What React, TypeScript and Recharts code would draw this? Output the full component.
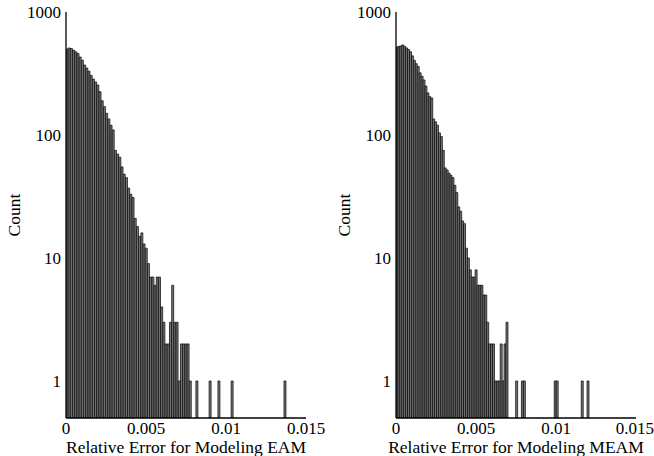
import { BarChart, Bar, XAxis, YAxis } from 'recharts'

// histogram bin widths (100 bins from 0 to the largest error)
const EAM_BIN = 0.0001376
const MEAM_BIN = 0.0001206

// counts per bin (null = empty bin)
const eamCounts: (number | null)[] = [
  500, 510, 505, 490, 475, 460, 430, 405, 370, 350,
  330, 305, 285, 270, 255, 225, 190, 170, 150, 135,
  120, 110, 75, 70, 66, 55, 48, 45, 37, 33,
  31, 21, 18, 15, 16, 13, 12, 9, 7, 7,
  6, 7, 7, 4, 3, 2, 2, 3, 6, 3,
  3, 1, 2, 2, 2, 2, 1, null, null, 1,
  null, null, null, null, null, 1, null, null, null, 1,
  null, null, null, null, null, 1, null, null, null, null,
  null, null, null, null, null, null, null, null, null, null,
  null, null, null, null, null, null, null, null, null, 1,
]

const meamCounts: (number | null)[] = [
  520, 525, 530, 540, 525, 510, 495, 475, 440, 405,
  380, 360, 320, 300, 280, 250, 220, 205, 200, 135,
  128, 120, 104, 97, 75, 54, 52, 49, 47, 45,
  39, 34, 26, 24, 20, 19, 12, 10, 8, 7,
  7, 8, 6, 6, 6, 5, 5, 3, 2, 2,
  2, 1, 1, 1, 2, 1, 2, 3, null, null,
  null, null, 1, null, null, 1, 1, null, null, null,
  null, null, null, null, null, null, null, null, null, null,
  null, null, 1, 1, null, null, null, null, null, null,
  null, null, null, null, null, null, 1, null, null, 1,
]

const X_DOMAIN = [0, 0.015]
const X_MAJOR = [0, 0.005, 0.01, 0.015]
const X_MINOR = [0.0025, 0.0075, 0.0125]
const Y_DOMAIN = [0.5, 1000]
const Y_MAJOR = [1, 10, 100, 1000]
const Y_MINOR = [
  0.6, 0.7, 0.8, 0.9, 2, 3, 4, 5, 6, 7, 8, 9,
  20, 30, 40, 50, 60, 70, 80, 90, 200, 300, 400, 500, 600, 700, 800, 900,
]

const FONT = 'Liberation Serif, DejaVu Serif, serif'
const TEXT = { fill: '#000', fontSize: 17, fontFamily: FONT, style: { fontFamily: FONT } }
const TITLE = { ...TEXT, fontSize: 17.5 }
const LINE = { stroke: '#000', strokeWidth: 1.3 }
const TICK = { stroke: '#000', strokeWidth: 1 }

function toBins(counts: (number | null)[], width: number) {
  return counts.map((count, i) => ({ x: (i + 0.5) * width, count }))
}

function CountLabel({ viewBox }: any) {
  const x = viewBox.x + 14
  const y = viewBox.y + viewBox.height / 2
  return (
    <text x={x} y={y} transform={`rotate(-90, ${x}, ${y})`} textAnchor="middle"
      fontSize={17.5} fill="#000" style={{ fontFamily: FONT }}>
      Count
    </text>
  )
}

function Panel({ counts, bin, title, left, marginLeft, marginRight }: {
  counts: (number | null)[]
  bin: number
  title: string
  left: number
  marginLeft: number
  marginRight: number
}) {
  const data = toBins(counts, bin)
  return (
    <div style={{ position: 'absolute', left, top: 0 }}>
      <BarChart
        width={327}
        height={456}
        data={data}
        barCategoryGap={0}
        barGap={0}
        margin={{ top: 12, right: marginRight, bottom: 0, left: marginLeft }}
      >
        <XAxis
          xAxisId="main" dataKey="x" type="number" domain={X_DOMAIN} allowDataOverflow
          ticks={X_MAJOR} height={38} tickSize={0} tickMargin={3.5} tickLine={false}
          axisLine={LINE} tick={TEXT}
          label={{ value: title, position: 'insideBottom', offset: 3, ...TITLE }}
        />
        <XAxis xAxisId="bMaj" dataKey="x" type="number" domain={X_DOMAIN} allowDataOverflow ticks={X_MAJOR}
          orientation="bottom" mirror height={0} tickSize={10} tick={false} axisLine={false} tickLine={TICK} />
        <XAxis xAxisId="bMin" dataKey="x" type="number" domain={X_DOMAIN} allowDataOverflow ticks={X_MINOR}
          orientation="bottom" mirror height={0} tickSize={5} tick={false} axisLine={false} tickLine={TICK} />
        <XAxis xAxisId="tMaj" dataKey="x" type="number" domain={X_DOMAIN} allowDataOverflow ticks={X_MAJOR}
          orientation="top" mirror height={0} tickSize={10} tick={false} axisLine={LINE} tickLine={TICK} />
        <XAxis xAxisId="tMin" dataKey="x" type="number" domain={X_DOMAIN} allowDataOverflow ticks={X_MINOR}
          orientation="top" mirror height={0} tickSize={5} tick={false} axisLine={false} tickLine={TICK} />

        <YAxis
          yAxisId="main" scale="log" type="number" domain={Y_DOMAIN} allowDataOverflow ticks={Y_MAJOR}
          width={60} tickSize={0} tickMargin={5} tickLine={false} axisLine={LINE} tick={TEXT}
          label={{ value: 'Count', position: 'center', content: CountLabel }}
        />
        <YAxis yAxisId="lMaj" scale="log" type="number" domain={Y_DOMAIN} allowDataOverflow ticks={Y_MAJOR}
          mirror width={0} tickSize={10} tick={false} axisLine={false} tickLine={TICK} />
        <YAxis yAxisId="lMin" scale="log" type="number" domain={Y_DOMAIN} allowDataOverflow ticks={Y_MINOR}
          mirror width={0} tickSize={5} tick={false} axisLine={false} tickLine={TICK} />
        <YAxis yAxisId="rMaj" scale="log" type="number" domain={Y_DOMAIN} allowDataOverflow ticks={Y_MAJOR}
          orientation="right" mirror width={0} tickSize={10} tick={false} axisLine={LINE} tickLine={TICK} />
        <YAxis yAxisId="rMin" scale="log" type="number" domain={Y_DOMAIN} allowDataOverflow ticks={Y_MINOR}
          orientation="right" mirror width={0} tickSize={5} tick={false} axisLine={false} tickLine={TICK} />

        <Bar
          xAxisId="main" yAxisId="main" dataKey="count"
          fill="#787878" stroke="#000" strokeWidth={0.7}
          isAnimationActive={false}
        />
      </BarChart>
    </div>
  )
}

export default function App() {
  return (
    <div style={{ position: 'absolute', left: 0, top: 0, width: 654, height: 456, background: '#fff', fontFamily: FONT }}>
      <Panel counts={eamCounts} bin={EAM_BIN} title="Relative Error for Modeling EAM" left={0} marginLeft={6} marginRight={21} />
      <Panel counts={meamCounts} bin={MEAM_BIN} title="Relative Error for Modeling MEAM" left={327} marginLeft={9} marginRight={18} />
    </div>
  )
}
